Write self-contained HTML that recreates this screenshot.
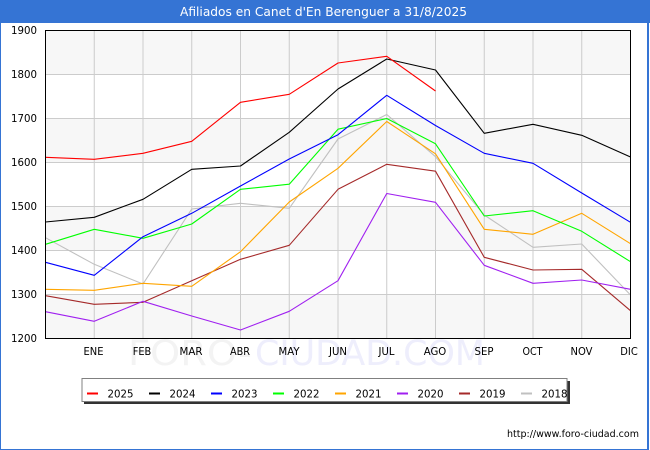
<!DOCTYPE html>
<html><head><meta charset="utf-8"><style>
html,body{margin:0;padding:0;background:#fff;}
svg{display:block;}
text{font-family:"DejaVu Sans","Liberation Sans",sans-serif;}
</style></head><body>
<svg width="650" height="450" viewBox="0 0 650 450" xmlns="http://www.w3.org/2000/svg">
<rect x="0" y="0" width="650" height="450" fill="#fff"/>
<!-- frame -->
<rect x="0" y="0" width="650" height="23" fill="#3574d4"/>
<rect x="0" y="0" width="1" height="450" fill="#3574d4"/>
<rect x="647" y="0" width="2" height="450" fill="#3574d4"/>
<rect x="0" y="449" width="649" height="1" fill="#3574d4"/>
<text x="323.5" y="16" fill="#fff" font-size="12.5" text-anchor="middle" textLength="287" lengthAdjust="spacingAndGlyphs">Afiliados en Canet d'En Berenguer a 31/8/2025</text>

<!-- watermark -->
<text x="128" y="365" font-size="35" fill="#f3f3f3" textLength="124" lengthAdjust="spacingAndGlyphs">FORO-</text>
<text x="255" y="365" font-size="35" fill="#eeeefc" textLength="230" lengthAdjust="spacingAndGlyphs">CIUDAD.COM</text>

<!-- plot bands -->
<rect x="45" y="30" width="585" height="308" fill="#fff"/>
<rect x="45" y="30" width="585" height="44" fill="#f7f7f7"/>
<rect x="45" y="118" width="585" height="44" fill="#f7f7f7"/>
<rect x="45" y="206" width="585" height="44" fill="#f7f7f7"/>
<rect x="45" y="294" width="585" height="44" fill="#f7f7f7"/>

<!-- grid -->
<g stroke="#cccccc" stroke-width="1">
<line x1="45" y1="74.5" x2="630" y2="74.5"/>
<line x1="45" y1="118.5" x2="630" y2="118.5"/>
<line x1="45" y1="162.5" x2="630" y2="162.5"/>
<line x1="45" y1="206.5" x2="630" y2="206.5"/>
<line x1="45" y1="250.5" x2="630" y2="250.5"/>
<line x1="45" y1="294.5" x2="630" y2="294.5"/>
<line x1="94.25" y1="30" x2="94.25" y2="338"/>
<line x1="143" y1="30" x2="143" y2="338"/>
<line x1="191.75" y1="30" x2="191.75" y2="338"/>
<line x1="240.5" y1="30" x2="240.5" y2="338"/>
<line x1="289.25" y1="30" x2="289.25" y2="338"/>
<line x1="338" y1="30" x2="338" y2="338"/>
<line x1="386.75" y1="30" x2="386.75" y2="338"/>
<line x1="435.5" y1="30" x2="435.5" y2="338"/>
<line x1="484.25" y1="30" x2="484.25" y2="338"/>
<line x1="533" y1="30" x2="533" y2="338"/>
<line x1="581.75" y1="30" x2="581.75" y2="338"/>
</g>

<!-- series -->
<g fill="none" stroke-width="1.1" stroke-linejoin="round">
<polyline stroke="#c0c0c0" points="45.5,237.7 94.25,264.3 143,284 191.75,209 240.5,203.3 289.25,208.3 338,139 386.75,114.5 435.5,156.7 484.25,215 533,247.3 581.75,244 630.5,295"/>
<polyline stroke="#a52a2a" points="45.5,295.7 94.25,304.3 143,302.3 191.75,280.7 240.5,259.3 289.25,245.3 338,189.3 386.75,164.3 435.5,171.2 484.25,257.3 533,270 581.75,269.3 630.5,310.7"/>
<polyline stroke="#a020f0" points="45.5,311.7 94.25,321.3 143,301.3 191.75,316 240.5,330 289.25,311.3 338,280.7 386.75,193.5 435.5,202.3 484.25,265.3 533,283.3 581.75,280 630.5,289.3"/>
<polyline stroke="#ffa500" points="45.5,289.3 94.25,290.3 143,283.3 191.75,286.3 240.5,251.7 289.25,202 338,168.3 386.75,121.5 435.5,153.8 484.25,229.3 533,234.3 581.75,213.3 630.5,243.7"/>
<polyline stroke="#00ff00" points="45.5,244.3 94.25,229.3 143,238.3 191.75,224 240.5,189.3 289.25,184.2 338,129.2 386.75,118.5 435.5,143.8 484.25,216 533,210.7 581.75,231.3 630.5,261.7"/>
<polyline stroke="#0000ff" points="45.5,262.3 94.25,275.3 143,236.7 191.75,213.3 240.5,186 289.25,159 338,134.7 386.75,95.3 435.5,125.5 484.25,153.3 533,163.3 581.75,193 630.5,222.3"/>
<polyline stroke="#000000" points="45.5,222 94.25,217.3 143,199.3 191.75,169.3 240.5,166 289.25,132.3 338,89 386.75,59 435.5,70 484.25,133.3 533,124.3 581.75,135.3 630.5,157"/>
<polyline stroke="#ff0000" points="45.5,157.3 94.25,159.3 143,153.3 191.75,141.3 240.5,102.3 289.25,94.3 338,63 386.75,56.3 435.5,91"/>
</g>

<!-- plot border -->
<rect x="45.5" y="30.5" width="585" height="308" fill="none" stroke="#000" stroke-width="1"/>

<!-- y labels -->
<g font-size="11" fill="#000" text-anchor="end">
<text x="37" y="34" textLength="26" lengthAdjust="spacingAndGlyphs">1900</text>
<text x="37" y="78" textLength="26" lengthAdjust="spacingAndGlyphs">1800</text>
<text x="37" y="122" textLength="26" lengthAdjust="spacingAndGlyphs">1700</text>
<text x="37" y="166" textLength="26" lengthAdjust="spacingAndGlyphs">1600</text>
<text x="37" y="210" textLength="26" lengthAdjust="spacingAndGlyphs">1500</text>
<text x="37" y="254" textLength="26" lengthAdjust="spacingAndGlyphs">1400</text>
<text x="37" y="298" textLength="26" lengthAdjust="spacingAndGlyphs">1300</text>
<text x="37" y="342" textLength="26" lengthAdjust="spacingAndGlyphs">1200</text>
</g>

<!-- x labels -->
<g font-size="11" fill="#000" text-anchor="middle">
<text x="93.5" y="355" textLength="20" lengthAdjust="spacingAndGlyphs">ENE</text>
<text x="142" y="355" textLength="18.5" lengthAdjust="spacingAndGlyphs">FEB</text>
<text x="191" y="355" textLength="23" lengthAdjust="spacingAndGlyphs">MAR</text>
<text x="240" y="355" textLength="20" lengthAdjust="spacingAndGlyphs">ABR</text>
<text x="289" y="355" textLength="21" lengthAdjust="spacingAndGlyphs">MAY</text>
<text x="338" y="355" textLength="18" lengthAdjust="spacingAndGlyphs">JUN</text>
<text x="386.5" y="355" textLength="16" lengthAdjust="spacingAndGlyphs">JUL</text>
<text x="435" y="355" textLength="22.5" lengthAdjust="spacingAndGlyphs">AGO</text>
<text x="484" y="355" textLength="19" lengthAdjust="spacingAndGlyphs">SEP</text>
<text x="532.5" y="355" textLength="20" lengthAdjust="spacingAndGlyphs">OCT</text>
<text x="581.5" y="355" textLength="22" lengthAdjust="spacingAndGlyphs">NOV</text>
<text x="629" y="355" textLength="17.5" lengthAdjust="spacingAndGlyphs">DIC</text>
</g>

<!-- legend -->
<rect x="84" y="381" width="486" height="23" fill="#333"/>
<rect x="82" y="378.5" width="485" height="23" fill="#fff" stroke="#808080" stroke-width="1"/>
<g stroke-width="2">
<line x1="87" y1="393.5" x2="98" y2="393.5" stroke="#ff0000"/>
<line x1="149" y1="393.5" x2="160" y2="393.5" stroke="#000000"/>
<line x1="211" y1="393.5" x2="222" y2="393.5" stroke="#0000ff"/>
<line x1="273" y1="393.5" x2="284" y2="393.5" stroke="#00ff00"/>
<line x1="335" y1="393.5" x2="346" y2="393.5" stroke="#ffa500"/>
<line x1="397" y1="393.5" x2="408" y2="393.5" stroke="#a020f0"/>
<line x1="459" y1="393.5" x2="470" y2="393.5" stroke="#a52a2a"/>
<line x1="521" y1="393.5" x2="532" y2="393.5" stroke="#c0c0c0"/>
</g>
<g font-size="11" fill="#000">
<text x="107.5" y="397.5" textLength="26" lengthAdjust="spacingAndGlyphs">2025</text>
<text x="169.5" y="397.5" textLength="26" lengthAdjust="spacingAndGlyphs">2024</text>
<text x="231.5" y="397.5" textLength="26" lengthAdjust="spacingAndGlyphs">2023</text>
<text x="293.5" y="397.5" textLength="26" lengthAdjust="spacingAndGlyphs">2022</text>
<text x="355.5" y="397.5" textLength="26" lengthAdjust="spacingAndGlyphs">2021</text>
<text x="417.5" y="397.5" textLength="26" lengthAdjust="spacingAndGlyphs">2020</text>
<text x="479.5" y="397.5" textLength="26" lengthAdjust="spacingAndGlyphs">2019</text>
<text x="541.5" y="397.5" textLength="26" lengthAdjust="spacingAndGlyphs">2018</text>
</g>

<!-- url -->
<text x="507" y="437" font-size="10" fill="#000" textLength="132" lengthAdjust="spacingAndGlyphs">http://www.foro-ciudad.com</text>
</svg>
</body></html>
